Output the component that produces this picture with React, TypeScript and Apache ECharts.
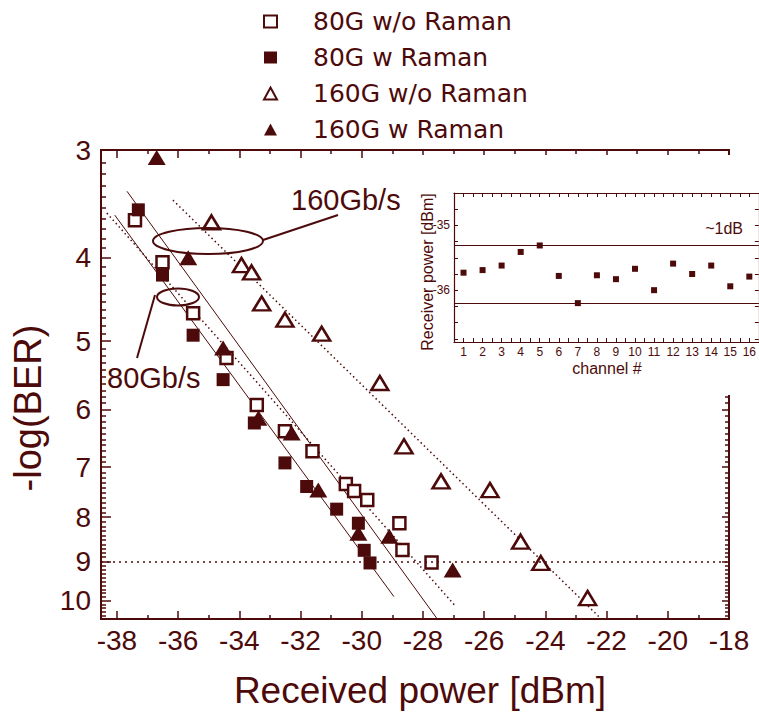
import React, { useEffect, useRef } from 'react';
import * as echarts from 'echarts';

const C = '#4d0a0a';
const FONT = "'Liberation Sans', Arial, Helvetica, sans-serif";

// ---- main chart data: [received power dBm, -log(BER)] ----
const ber80NoRaman: [number, number][] = [
  [-37.41, 3.62], [-36.51, 4.05], [-35.51, 4.64], [-34.42, 5.23], [-33.43, 5.93],
  [-32.51, 6.36], [-31.61, 6.71], [-30.52, 7.32], [-30.25, 7.46], [-29.82, 7.64],
  [-28.77, 8.13], [-28.67, 8.73], [-27.72, 9.03],
];
const ber80Raman: [number, number][] = [
  [-37.30, 3.52], [-36.51, 4.19], [-35.51, 4.92], [-34.53, 5.54], [-33.51, 6.22],
  [-32.51, 6.92], [-31.80, 7.37], [-30.82, 7.83], [-30.11, 8.13], [-29.92, 8.74],
  [-29.73, 9.04],
];
const ber160NoRaman: [number, number][] = [
  [-34.91, 3.64], [-33.93, 4.08], [-33.60, 4.16], [-33.27, 4.52], [-32.51, 4.72],
  [-31.31, 4.90], [-29.41, 5.59], [-28.62, 6.62], [-27.41, 7.27], [-25.81, 7.44],
  [-24.81, 8.54], [-24.15, 9.04], [-22.62, 9.93],
];
const ber160Raman: [number, number][] = [
  [-36.70, 3.06], [-35.67, 4.00], [-34.53, 5.09], [-33.38, 6.14], [-32.29, 6.39],
  [-31.42, 7.44], [-30.11, 8.35], [-29.10, 8.42], [-27.03, 9.21],
];

// fit lines (end points)
const fit80Raman: [number, number][] = [[-38.07, 3.57], [-28.95, 9.89]];
const fit160Raman: [number, number][] = [[-37.67, 3.35], [-27.54, 10.49]];
const fit80NoRaman: [number, number][] = [[-38.33, 3.55], [-26.92, 10.16]];
const fit160NoRaman: [number, number][] = [[-36.17, 3.43], [-22.22, 10.46]];
const berThreshold = 9;

// tick labels
const xTickLabels = [-38, -36, -34, -32, -30, -28, -26, -24, -22, -20, -18];
const yTickLabels = [3, 4, 5, 6, 7, 8, 9, 10];

// ---- inset data ----
const channels = [1, 2, 3, 4, 5, 6, 7, 8, 9, 10, 11, 12, 13, 14, 15, 16];
const channelPower = [
  -35.73, -35.69, -35.62, -35.41, -35.31, -35.78, -36.20, -35.77,
  -35.83, -35.67, -36.00, -35.59, -35.75, -35.62, -35.94, -35.79,
];
const powerBand = [-35.3, -36.2];
const insetYLabels = [-35, -36];

// minor tick positions
const xMinor: number[] = [];
for (let v = -37; v <= -19; v += 2) xMinor.push(v);
const yMinor: number[] = [];
for (let i = 31; i <= 105; i++) if (i % 10 !== 0) yMinor.push(i / 10);
const insetXTicks: number[] = [];
for (let i = 1; i <= 33; i++) insetXTicks.push(i / 2);
const insetYTicks: number[] = [];
for (let i = -147; i <= -139; i++) insetYTicks.push(i / 4);

const axisLine = { show: true, onZero: false, lineStyle: { color: C, width: 2 } };

function mainX(position: 'bottom' | 'top', ticks: number[], len: number, labels: boolean) {
  return {
    type: 'value', gridIndex: 0, position, min: -38.52, max: -18,
    axisLine, splitLine: { show: false },
    axisTick: { show: true, inside: true, length: len, customValues: ticks, lineStyle: { color: C, width: 1.5 } },
    axisLabel: labels
      ? { show: true, customValues: xTickLabels, color: C, fontSize: 28, fontFamily: FONT, margin: 7 }
      : { show: false },
  };
}
function mainY(position: 'left' | 'right', ticks: number[], len: number, labels: boolean) {
  return {
    type: 'log', logBase: 10, gridIndex: 0, position, min: 3, max: 10.5, inverse: true,
    axisLine, splitLine: { show: false }, minorTick: { show: false },
    axisTick: { show: true, inside: true, length: len, customValues: ticks, lineStyle: { color: C, width: 1.5 } },
    axisLabel: labels
      ? { show: true, customValues: yTickLabels, color: C, fontSize: 28, fontFamily: FONT, margin: 10 }
      : { show: false },
  };
}

const insetLine = { show: true, onZero: false, lineStyle: { color: C, width: 1.2 } };

export default function App() {
  const ref = useRef<HTMLDivElement>(null);
  useEffect(() => {
    if (!ref.current) return;
    const chart = echarts.init(ref.current, undefined, { renderer: 'svg' });
    const openStyle = { color: '#ffffff', borderColor: C, borderWidth: 2.5, opacity: 1 };
    const fillStyle = { color: C, opacity: 1 };
    const option: any = {
      animation: false,
      backgroundColor: '#ffffff',
      legend: {
        orient: 'vertical', left: 258, top: 3, itemWidth: 13, itemHeight: 12, itemGap: 9,
        textStyle: { color: C, fontSize: 25, fontFamily: "'DejaVu Sans', sans-serif", lineHeight: 27, padding: [0, 0, 0, 31] },
        data: [
          { name: '80G w/o Raman', icon: 'rect' },
          { name: '80G w Raman', icon: 'rect' },
          { name: '160G w/o Raman', icon: 'triangle' },
          { name: '160G w Raman', icon: 'triangle' },
        ],
      },
      grid: [
        { left: 101, top: 150, width: 628, height: 469 },
        { left: 454, top: 193, width: 309, height: 149 },
      ],
      xAxis: [
        mainX('bottom', xTickLabels, 8, true),
        mainX('bottom', xMinor, 4, false),
        mainX('top', xTickLabels, 8, false),
        mainX('top', xMinor, 4, false),
        {
          type: 'value', gridIndex: 1, position: 'bottom', min: 0.5, max: 16.5, z: 6,
          axisLine: insetLine, splitLine: { show: false },
          axisTick: { show: true, inside: true, length: 4, customValues: insetXTicks, lineStyle: { color: C, width: 1 } },
          axisLabel: { show: true, customValues: channels, color: C, fontSize: 12, fontFamily: FONT, margin: 4 },
        },
        {
          type: 'value', gridIndex: 1, position: 'top', min: 0.5, max: 16.5, z: 6,
          axisLine: insetLine, splitLine: { show: false },
          axisTick: { show: true, inside: true, length: 4, customValues: insetXTicks, lineStyle: { color: C, width: 1 } },
          axisLabel: { show: false },
        },
      ],
      yAxis: [
        mainY('left', yTickLabels, 10, true),
        mainY('left', yMinor, 5, false),
        mainY('right', yTickLabels, 7, false),
        mainY('right', yMinor, 4, false),
        {
          type: 'value', gridIndex: 1, position: 'left', min: -36.8, max: -34.5, z: 6,
          axisLine: insetLine, splitLine: { show: false },
          axisTick: { show: true, inside: true, length: 4, customValues: insetYTicks, lineStyle: { color: C, width: 1 } },
          axisLabel: { show: true, customValues: insetYLabels, color: C, fontSize: 12, fontFamily: FONT, margin: 4 },
        },
        {
          type: 'value', gridIndex: 1, position: 'right', min: -36.8, max: -34.5, z: 6,
          axisLine: insetLine, splitLine: { show: false },
          axisTick: { show: true, inside: true, length: 4, customValues: insetYTicks, lineStyle: { color: C, width: 1 } },
          axisLabel: { show: false },
        },
      ],
      series: [
        {
          type: 'line', xAxisIndex: 0, yAxisIndex: 0, data: fit80Raman, symbol: 'none', silent: true, z: 1,
          lineStyle: { color: C, width: 1, type: 'solid' },
          markLine: {
            symbol: 'none', silent: true, label: { show: false },
            lineStyle: { color: C, width: 1.5, type: [2, 4] },
            data: [{ yAxis: berThreshold }],
          },
        },
        { type: 'line', xAxisIndex: 0, yAxisIndex: 0, data: fit160Raman, symbol: 'none', silent: true, z: 1, lineStyle: { color: C, width: 1, type: 'solid' } },
        { type: 'line', xAxisIndex: 0, yAxisIndex: 0, data: fit80NoRaman, symbol: 'none', silent: true, z: 1, lineStyle: { color: C, width: 1.5, type: [1.5, 3] } },
        { type: 'line', xAxisIndex: 0, yAxisIndex: 0, data: fit160NoRaman, symbol: 'none', silent: true, z: 1, lineStyle: { color: C, width: 1.5, type: [1.5, 3] } },
        { name: '80G w/o Raman', type: 'scatter', xAxisIndex: 0, yAxisIndex: 0, data: ber80NoRaman, symbol: 'rect', symbolSize: 12, itemStyle: openStyle, z: 3 },
        { name: '80G w Raman', type: 'scatter', xAxisIndex: 0, yAxisIndex: 0, data: ber80Raman, symbol: 'rect', symbolSize: 13, itemStyle: fillStyle, z: 3 },
        { name: '160G w/o Raman', type: 'scatter', xAxisIndex: 0, yAxisIndex: 0, data: ber160NoRaman, symbol: 'triangle', symbolSize: [17, 14], itemStyle: openStyle, z: 3 },
        { name: '160G w Raman', type: 'scatter', xAxisIndex: 0, yAxisIndex: 0, data: ber160Raman, symbol: 'triangle', symbolSize: [18, 15], itemStyle: fillStyle, z: 3 },
        {
          type: 'scatter', xAxisIndex: 4, yAxisIndex: 4, z: 7,
          data: channels.map((c, i) => [c, channelPower[i]]),
          symbol: 'rect', symbolSize: 6, itemStyle: { color: C, opacity: 1 },
          markLine: {
            symbol: 'none', silent: true, label: { show: false },
            lineStyle: { color: C, width: 1.2, type: 'solid' },
            data: powerBand.map((v) => ({ yAxis: v })),
          },
        },
      ],
      graphic: [
        { type: 'rect', z: 5, shape: { x: 405, y: 155, width: 360, height: 240 }, style: { fill: '#ffffff' } },
        // axis titles
        {
          type: 'text', z: 10, x: 28, y: 408, rotation: Math.PI / 2,
          style: { text: '-log(BER)', fill: C, font: `38px ${FONT}`, align: 'center', verticalAlign: 'middle', textAlign: 'center', textVerticalAlign: 'middle' },
        },
        {
          type: 'text', z: 10, x: 420, y: 690,
          style: { text: 'Received power [dBm]', fill: C, font: `37px ${FONT}`, align: 'center', verticalAlign: 'middle', textAlign: 'center', textVerticalAlign: 'middle' },
        },
        // annotations
        { type: 'ellipse', z: 10, shape: { cx: 208, cy: 241, rx: 55, ry: 13 }, style: { fill: 'none', stroke: C, lineWidth: 2 } },
        { type: 'line', z: 10, shape: { x1: 263, y1: 240, x2: 338, y2: 215 }, style: { stroke: C, lineWidth: 2 } },
        {
          type: 'text', z: 10, x: 291, y: 200,
          style: { text: '160Gb/s', fill: C, font: `29px ${FONT}`, align: 'left', verticalAlign: 'middle', textAlign: 'left', textVerticalAlign: 'middle' },
        },
        { type: 'ellipse', z: 10, shape: { cx: 178, cy: 297, rx: 21, ry: 8.5 }, style: { fill: 'none', stroke: C, lineWidth: 2 } },
        { type: 'line', z: 10, shape: { x1: 155, y1: 295, x2: 137, y2: 358 }, style: { stroke: C, lineWidth: 2 } },
        {
          type: 'text', z: 10, x: 107, y: 378,
          style: { text: '80Gb/s', fill: C, font: `29px ${FONT}`, align: 'left', verticalAlign: 'middle', textAlign: 'left', textVerticalAlign: 'middle' },
        },
        // inset texts
        {
          type: 'text', z: 10, x: 427, y: 272, rotation: Math.PI / 2,
          style: { text: 'Receiver power [dBm]', fill: C, font: `16px ${FONT}`, align: 'center', verticalAlign: 'middle', textAlign: 'center', textVerticalAlign: 'middle' },
        },
        {
          type: 'text', z: 10, x: 607, y: 368,
          style: { text: 'channel #', fill: C, font: `16px ${FONT}`, align: 'center', verticalAlign: 'middle', textAlign: 'center', textVerticalAlign: 'middle' },
        },
        {
          type: 'text', z: 10, x: 743, y: 228,
          style: { text: '~1dB', fill: C, font: `16px ${FONT}`, align: 'right', verticalAlign: 'middle', textAlign: 'right', textVerticalAlign: 'middle' },
        },
      ],
    };
    chart.setOption(option);
    return () => chart.dispose();
  }, []);
  return <div ref={ref} style={{ width: 759, height: 718, position: 'absolute', left: 0, top: 0 }} />;
}
